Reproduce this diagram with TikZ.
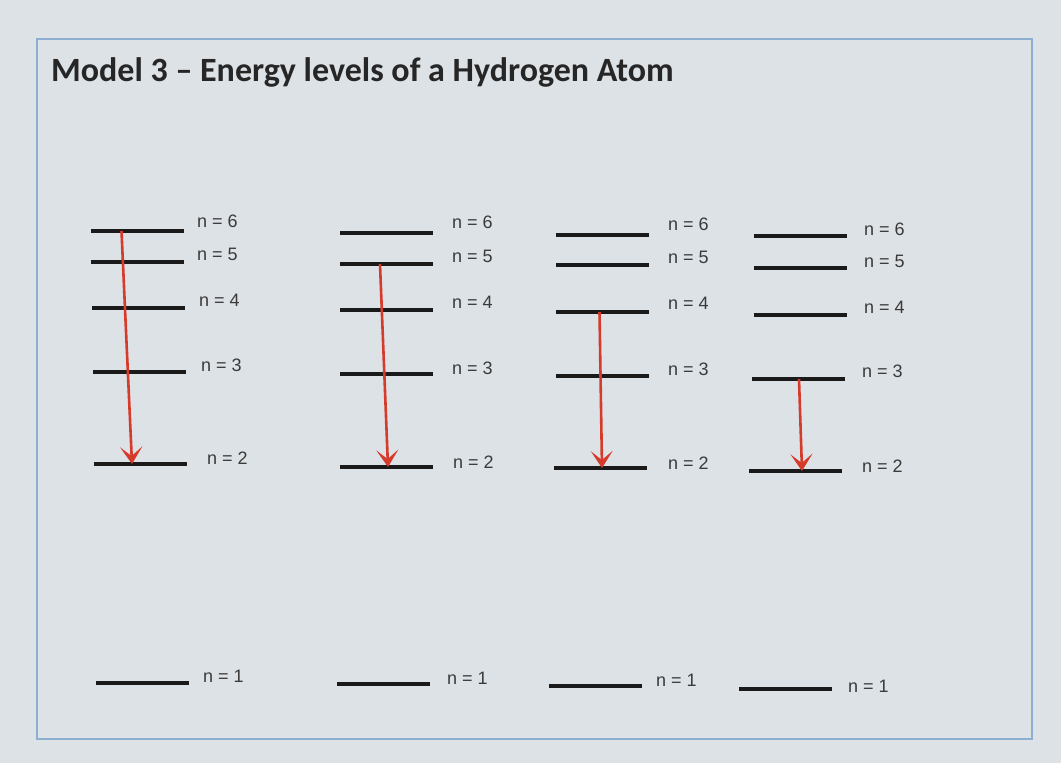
\documentclass[tikz,border=0pt]{standalone}
\usepackage{fontspec}
\setmainfont{Liberation Sans}
\newfontfamily\titlefont{Carlito}
\usetikzlibrary{arrows.meta}
\definecolor{bg}{HTML}{DDE2E6}
\definecolor{framec}{HTML}{8DAED0}
\definecolor{lvlc}{HTML}{1A1A1A}
\definecolor{labc}{HTML}{3A3A3A}
\definecolor{arrc}{HTML}{D63A2A}
\begin{document}
\begin{tikzpicture}[x=1pt,y=-1pt,
  lvl/.style={fill=lvlc,draw=none,minimum height=3.2pt,inner sep=0pt,outer sep=0pt,minimum width=93pt},
  lab/.style={anchor=west,inner sep=0pt,text=labc,font=\fontsize{18}{20}\selectfont},
  trans/.style={draw=arrc,line width=2.6pt,-{Stealth[length=17pt,width=22pt,inset=9pt]}},
  framebox/.style={draw=framec,line width=1.2pt}]
\fill[bg] (0,0) rectangle (1061,763);
\useasboundingbox (0,0) rectangle (1061,763);
\draw[framebox] (37,39) rectangle (1032,739);
\node[anchor=west,inner sep=0pt,text=black!85,font=\titlefont\bfseries\fontsize{34}{40}\selectfont] (title) at (51,72) {Model 3 \textendash\ Energy levels of a Hydrogen Atom};
% column 1
\node[lvl] (a6) at (137.5,231) {};
\node[lvl] (a5) at (137.5,262) {};
\node[lvl] (a4) at (138,308) {};
\node[lvl] (a3) at (139,372) {};
\node[lvl] (a2) at (140,464) {};
\node[lvl] (a1) at (142,683) {};
\node[lab] (la6) at (197,221) {n = 6};
\node[lab] (la5) at (197,254) {n = 5};
\node[lab] (la4) at (199,300) {n = 4};
\node[lab] (la3) at (201,365) {n = 3};
\node[lab] (la2) at (207,458) {n = 2};
\node[lab] (la1) at (203,676) {n = 1};
\draw[trans] ([xshift=-16pt]a6.center) -- ([xshift=-8pt]a2.center);
% column 2
\node[lvl] (b6) at (386,233) {};
\node[lvl] (b5) at (386,264) {};
\node[lvl] (b4) at (386,310) {};
\node[lvl] (b3) at (386,374) {};
\node[lvl] (b2) at (386,467) {};
\node[lvl] (b1) at (383,684) {};
\node[lab] (lb6) at (452,222) {n = 6};
\node[lab] (lb5) at (452,256) {n = 5};
\node[lab] (lb4) at (452,302) {n = 4};
\node[lab] (lb3) at (452,368) {n = 3};
\node[lab] (lb2) at (453,462) {n = 2};
\node[lab] (lb1) at (447,678) {n = 1};
\draw[trans] ([xshift=-6pt]b5.center) -- ([xshift=2pt]b2.center);
% column 3
\node[lvl] (c6) at (602.5,235) {};
\node[lvl] (c5) at (602.5,265) {};
\node[lvl] (c4) at (602.5,312) {};
\node[lvl] (c3) at (602,376) {};
\node[lvl] (c2) at (600,468) {};
\node[lvl] (c1) at (595,686) {};
\node[lab] (lc6) at (668,224) {n = 6};
\node[lab] (lc5) at (668,257) {n = 5};
\node[lab] (lc4) at (668,303) {n = 4};
\node[lab] (lc3) at (668,369) {n = 3};
\node[lab] (lc2) at (668,463) {n = 2};
\node[lab] (lc1) at (656,680) {n = 1};
\draw[trans] ([xshift=-3pt]c4.center) -- ([xshift=2pt]c2.center);
% column 4
\node[lvl] (d6) at (800,236) {};
\node[lvl] (d5) at (800,268) {};
\node[lvl] (d4) at (800,315) {};
\node[lvl] (d3) at (798,379) {};
\node[lvl] (d2) at (795,471) {};
\node[lvl] (d1) at (785,689) {};
\node[lab] (ld6) at (864,229) {n = 6};
\node[lab] (ld5) at (864,261) {n = 5};
\node[lab] (ld4) at (864,307) {n = 4};
\node[lab] (ld3) at (862,371) {n = 3};
\node[lab] (ld2) at (862,466) {n = 2};
\node[lab] (ld1) at (848,686) {n = 1};
\draw[trans] ([xshift=1pt]d3.center) -- ([xshift=7pt]d2.center);
\end{tikzpicture}
\end{document}
